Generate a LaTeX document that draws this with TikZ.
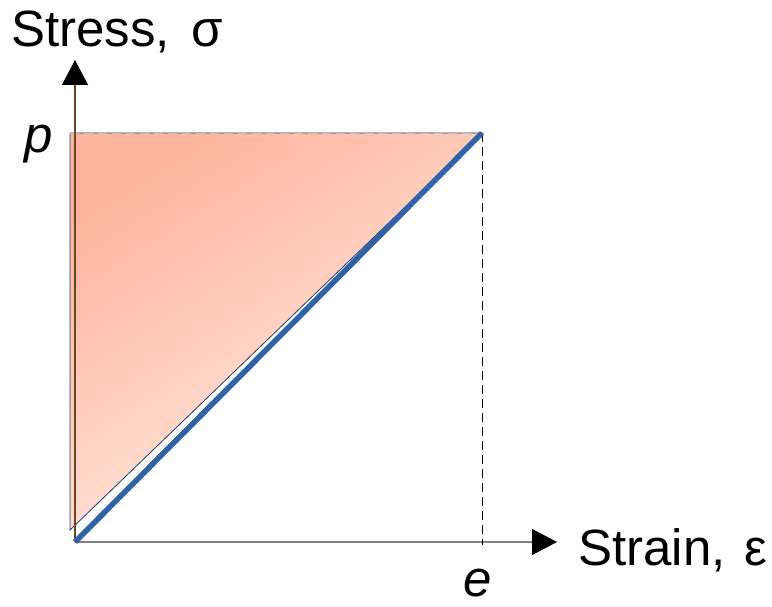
\documentclass[tikz,border=0pt]{standalone}
\usepackage{fontspec}
\setmainfont{Liberation Sans}
\usetikzlibrary{arrows.meta}
\definecolor{salmonA}{HTML}{FFB59D}
\definecolor{salmonB}{HTML}{FFF0EA}
\definecolor{lineblue}{HTML}{2F62A8}
\definecolor{navy}{HTML}{1F3A6A}
\tikzset{
  axis/.style={draw=black!50, line width=1.3pt, -{Triangle[length=25pt,width=26pt,color=black]}},
  lbl/.style={inner sep=0pt, font=\fontsize{51}{60}\selectfont},
  guide/.style={draw=black, line width=0.8pt, dash pattern=on 9pt off 5pt}
}
\begin{document}
\begin{tikzpicture}[x=1pt,y=-1pt]
\useasboundingbox (0,0) rectangle (772,607);
\coordinate (O) at (75,542);
\coordinate (ytip) at (75,60);
\coordinate (xtip) at (557,542);
\coordinate (TL) at (70,133);
\coordinate (TR) at (482,133);
\coordinate (BL) at (70,530);
\coordinate (eb) at (482,545);
% shaded triangle
\shade[top color=salmonA, bottom color=salmonB, shading angle=32] (TL) -- (TR) -- (BL) -- cycle;
\draw[navy, line width=0.8pt] (BL) -- (TL) -- (TR) -- cycle;
\draw[white!75!black, line width=0.8pt, dash pattern=on 9pt off 5pt] (TL) -- (TR);
% axes
\draw[axis, draw=black!45!brown] (O) -- (ytip);
\draw[axis] (O) -- (xtip);
% guide
\draw[guide] (TR) -- (eb);
% loading line
\draw[lineblue, line width=5.5pt] (O) -- (TR);
% labels
\node[lbl, anchor=base west] (ylab) at (11,47) {Stress,\hspace{22pt}σ};
\node[lbl, anchor=base west] (xlab) at (578,565) {Strain,\hspace{19pt}ε};
\node[lbl, anchor=base] (plab) at (39,153) {\itshape p};
\node[lbl, anchor=base] (elab) at (478,596) {\itshape e};
\end{tikzpicture}
\end{document}
